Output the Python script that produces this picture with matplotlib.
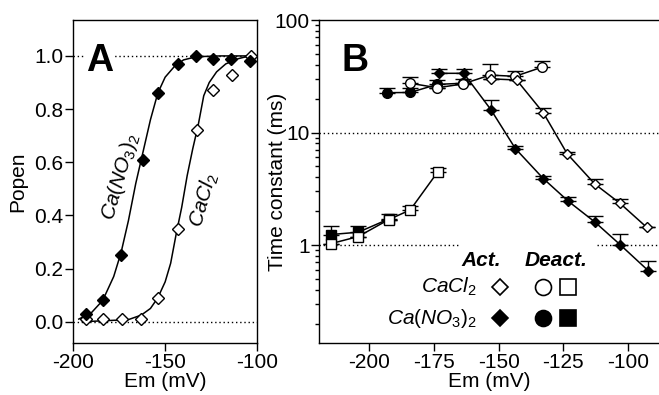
import numpy as np
import matplotlib
matplotlib.use("Agg")
import matplotlib.pyplot as plt

plt.rcParams['font.family'] = ['Liberation Sans', 'DejaVu Sans']
plt.rcParams['axes.unicode_minus'] = False
plt.rcParams['mathtext.fontset'] = 'custom'
plt.rcParams['mathtext.rm'] = 'Liberation Sans'
plt.rcParams['mathtext.it'] = 'Liberation Sans:italic'
plt.rcParams['mathtext.bf'] = 'Liberation Sans:bold'

# ---- panel A : open probability ----
em_no3_a = [-193, -184, -174, -162, -154, -143, -133, -124, -114, -104]
po_no3 = [0.03, 0.08, 0.25, 0.61, 0.86, 0.97, 1.0, 0.99, 0.99, 0.98]
em_cl_a = [-193, -184, -173.5, -163, -154, -143, -132.5, -124, -113.5, -103.5]
po_cl = [0.01, 0.01, 0.01, 0.01, 0.09, 0.35, 0.72, 0.87, 0.93, 1.0]

# fitted curves (vertices)
fit_no3_em = [-197, -190, -184, -178, -174, -170, -166, -162, -158, -154, -150, -145, -140, -133, -120, -100]
fit_no3_po = [0.01, 0.035, 0.08, 0.17, 0.26, 0.38, 0.52, 0.64, 0.76, 0.86, 0.92, 0.96, 0.985, 0.997, 1.0, 1.0]
fit_cl_em = [-195, -170, -163, -158, -154, -150, -147, -144, -141, -138, -135, -132, -129, -126, -122, -117, -110, -104, -100]
fit_cl_po = [0.0, 0.008, 0.025, 0.05, 0.09, 0.15, 0.22, 0.33, 0.43, 0.55, 0.65, 0.74, 0.85, 0.9, 0.94, 0.97, 0.99, 1.0, 1.0]

# ---- panel B : time constants ----
# Ca(NO3)2 activation (filled diamonds)
em_no3_act = [-173, -163.5, -153, -143.5, -132.7, -123, -112.7, -103, -92]
tau_no3_act = [33.6, 33.6, 16.0, 7.2, 3.9, 2.45, 1.6, 1.01, 0.59]
err_no3_act = [36.5, 36.5, 19.4, 7.6, 4.15, 2.65, 1.81, 1.25, 0.72]
# CaCl2 activation (open diamonds)
em_cl_act = [-153, -143, -132.7, -123.4, -112.7, -103, -92.7]
tau_cl_act = [30.0, 29.3, 15.0, 6.45, 3.48, 2.35, 1.44]
err_cl_act = [30.0, 29.3, 16.6, 6.75, 3.84, 2.55, 1.44]
# Ca(NO3)2 deactivation (filled circles)
em_no3_dc = [-193.3, -184.2, -173.7, -163.9]
tau_no3_dc = [22.6, 22.7, 26.8, 27.4]
err_no3_dc = [24.7, 24.7, 29.3, 30.0]
# CaCl2 deactivation (open circles)
em_cl_dc = [-184.2, -173.7, -163.9, -153.3, -143.6, -133.3]
tau_cl_dc = [27.4, 25.0, 27.0, 32.4, 31.6, 38.0]
err_cl_dc = [31.0, 25.0, 27.0, 40.6, 35.0, 43.2]
# Ca(NO3)2 deactivation (filled squares)
em_no3_sq = [-214.8, -204.3, -192.6]
tau_no3_sq = [1.24, 1.30, 1.70]
err_no3_sq = [1.49, 1.49, 1.87]
# CaCl2 deactivation (open squares)
em_cl_sq = [-214.8, -204.3, -192.6, -184.2, -173.5]
tau_cl_sq = [1.03, 1.19, 1.68, 2.05, 4.48]
err_cl_sq = [1.03, 1.19, 1.68, 2.22, 4.8]

FS = 15

fig = plt.figure(figsize=(6.59, 3.95), dpi=100)
axA = fig.add_axes([0.1112, 0.1316, 0.2788, 0.8177])
axB = fig.add_axes([0.4845, 0.1316, 0.5155, 0.8177])

dot = dict(color='black', lw=1.0, ls=(0, (1, 2)), zorder=1)

# panel A
axA.axhline(1.0, **dot)
axA.axhline(0.0, **dot)
axA.plot(fit_cl_em, fit_cl_po, color='black', lw=1.1, zorder=2)
axA.plot(fit_no3_em, fit_no3_po, color='black', lw=1.1, zorder=2)
axA.plot(em_cl_a, po_cl, 'D', ms=6.3, mfc='white', mec='black', mew=1.0, ls='none', zorder=3)
axA.plot(em_no3_a, po_no3, 'D', ms=6.3, mfc='black', mec='black', ls='none', zorder=4)
axA.set_xlim(-200, -100)
axA.set_ylim(-0.08, 1.135)
axA.set_xticks([-200, -150, -100])
axA.set_yticks([0.0, 0.2, 0.4, 0.6, 0.8, 1.0])
axA.set_yticklabels(['0.0', '0.2', '0.4', '0.6', '0.8', '1.0'])
axA.set_xlabel('Em (mV)', fontsize=FS, labelpad=0)
axA.set_ylabel('Popen', fontsize=FS)
axA.yaxis.set_label_coords(-0.25, 0.5)
axA.text(0.07, 0.93, 'A', transform=axA.transAxes, fontsize=27, fontweight='bold',
         va='top', ha='left', bbox=dict(fc='white', ec='none', pad=1))
axA.text(-174.1, 0.545, r'$Ca(NO_3)_2$', fontsize=FS, rotation=74, ha='center', va='center')
axA.text(-129.0, 0.458, r'$CaCl_2$', fontsize=FS, rotation=74, ha='center', va='center')

# panel B
axB.set_yscale('log')
axB.axhline(10, **dot)
axB.plot([-219.4, -165.6], [1, 1], **dot)
axB.plot([-112, -87.9], [1, 1], **dot)


def series(x, y, top, marker, filled, ms):
    y = np.array(y)
    up = np.array(top) - y
    axB.errorbar(x, y, yerr=[np.zeros_like(up), up], fmt='none', ecolor='black',
                 elinewidth=1.0, capsize=6, capthick=1.0, zorder=2)
    axB.plot(x, y, color='black', lw=1.1, zorder=3)
    axB.plot(x, y, marker, ms=ms, mfc='black' if filled else 'white', mec='black',
             mew=1.0, ls='none', zorder=4 if filled else 5)


series(em_cl_sq, tau_cl_sq, err_cl_sq, 's', False, 7)
series(em_no3_sq, tau_no3_sq, err_no3_sq, 's', True, 7)
series(em_cl_dc, tau_cl_dc, err_cl_dc, 'o', False, 7)
series(em_no3_dc, tau_no3_dc, err_no3_dc, 'o', True, 7)
series(em_cl_act, tau_cl_act, err_cl_act, 'D', False, 5.5)
series(em_no3_act, tau_no3_act, err_no3_act, 'D', True, 5.5)

axB.set_xlim(-219.4, -87.9)
axB.set_ylim(0.1346, 100)
axB.set_xticks([-200, -175, -150, -125, -100])
axB.set_yticks([1, 10, 100])
axB.set_yticklabels(['1', '10', '100'])
axB.yaxis.set_minor_formatter(matplotlib.ticker.NullFormatter())
axB.spines['right'].set_visible(False)
axB.set_xlabel('Em (mV)', fontsize=FS, labelpad=0)
axB.set_ylabel('Time constant (ms)', fontsize=FS)
axB.yaxis.set_label_coords(-0.095, 0.5)
axB.text(0.065, 0.93, 'B', transform=axB.transAxes, fontsize=27, fontweight='bold',
         va='top', ha='left')

# legend table
tr = axB.transAxes
def fx(px):
    return (px - 319.3) / (659 - 319.3)
def fy(py):
    return (343 - py) / (343 - 20)

axB.text(fx(481), fy(260), 'Act.', transform=tr, fontsize=FS, fontweight='bold',
         fontstyle='italic', ha='center', va='center')
axB.text(fx(556), fy(260), 'Deact.', transform=tr, fontsize=FS, fontweight='bold',
         fontstyle='italic', ha='center', va='center')
axB.text(fx(477), fy(287), r'$CaCl_2$', transform=tr, fontsize=FS, ha='right', va='center')
axB.text(fx(477), fy(318), r'$Ca(NO_3)_2$', transform=tr, fontsize=FS, ha='right', va='center')
for row, filled in ((287, False), (318, True)):
    fc = 'black' if filled else 'white'
    axB.plot(fx(500), fy(row), 'D', transform=tr, ms=8, mfc=fc, mec='black', mew=1.2, clip_on=False)
    axB.plot(fx(543), fy(row), 'o', transform=tr, ms=11.5, mfc=fc, mec='black', mew=1.2, clip_on=False)
    axB.plot(fx(568.5), fy(row), 's', transform=tr, ms=11, mfc=fc, mec='black', mew=1.2, clip_on=False)

for ax in (axA, axB):
    ax.tick_params(which='major', direction='out', length=5.5, width=1, labelsize=FS, pad=1.5)
    ax.tick_params(which='minor', direction='out', length=3, width=1)
    ax.tick_params(top=False, right=False)
    for s in ax.spines.values():
        s.set_linewidth(1.0)

fig.savefig('out.png', dpi=100)
